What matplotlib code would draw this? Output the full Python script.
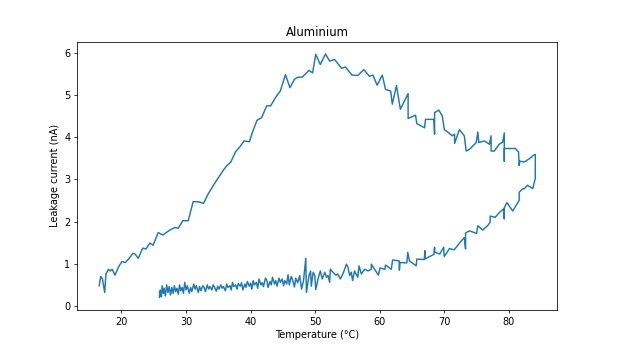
import matplotlib
matplotlib.use("Agg")
import matplotlib.pyplot as plt

# heating branch (lower left -> peak -> right end)
heat_T = [16.55, 16.8, 17.06, 17.4, 17.6, 18.0, 18.25, 18.56, 19.0, 19.5,
          20.05, 20.6, 21.1, 21.8, 22.1, 22.6, 23.3, 23.8, 24.4, 24.9,
          25.7, 26.4, 27.5, 28.3, 28.8, 29.5, 30.35, 31.1, 31.9, 32.7,
          33.45, 34.5, 35.8, 36.3, 36.9, 37.7, 38.35, 39.0, 39.8, 40.4,
          41.0, 41.7, 42.5, 43.1, 44.0, 44.6, 45.4, 46.1, 46.8, 47.35,
          48.0, 48.65, 49.05, 49.6, 50.1, 50.8, 51.6, 52.25, 53.0, 54.1,
          54.7, 55.7, 56.6, 57.55, 58.4, 58.95, 59.6, 60.4, 60.9, 61.7,
          61.95, 62.6, 63.2, 64.4, 64.4, 65.55, 65.75, 66.95, 67.1, 68.4,
          68.5, 68.5, 69.15, 69.7, 70.0, 70.8, 71.2, 71.6, 71.6, 72.35,
          73.1, 73.4, 73.9, 74.95, 75.2, 75.35, 76.2, 77.0, 77.25, 77.25,
          77.75, 78.5, 79.05, 79.3, 79.3, 79.3, 80.5, 81.0, 81.5, 81.6,
          81.7, 82.4, 83.2, 83.8, 84.1]
heat_I = [0.48, 0.70, 0.64, 0.32, 0.76, 0.87, 0.83, 0.87, 0.73, 0.91,
          1.05, 1.03, 1.11, 1.25, 1.23, 1.13, 1.37, 1.35, 1.49, 1.44,
          1.74, 1.68, 1.80, 1.86, 1.84, 2.02, 2.02, 2.47, 2.47, 2.43,
          2.66, 2.92, 3.22, 3.32, 3.40, 3.66, 3.77, 3.91, 3.89, 4.16,
          4.40, 4.46, 4.74, 4.74, 4.97, 5.09, 5.48, 5.17, 5.37, 5.42,
          5.42, 5.52, 5.58, 5.52, 5.96, 5.72, 5.97, 5.80, 5.84, 5.63,
          5.66, 5.47, 5.46, 5.60, 5.44, 5.47, 5.23, 5.47, 5.13, 5.09,
          4.78, 5.22, 4.66, 5.03, 4.44, 4.52, 4.32, 4.22, 4.42, 4.42,
          4.07, 4.58, 4.64, 4.50, 4.18, 4.09, 4.03, 4.07, 3.85, 4.18,
          4.03, 3.67, 3.71, 3.87, 4.12, 3.87, 3.91, 3.83, 4.03, 3.67,
          3.67, 3.83, 3.88, 4.10, 3.43, 3.73, 3.73, 3.73, 3.65, 3.33,
          3.43, 3.41, 3.49, 3.57, 3.59]

# cooling branch (right end -> back to room temperature)
cool_T = [84.1, 83.7, 82.9, 82.4, 82.1, 81.6, 81.6, 80.6, 79.7, 79.3,
          79.3, 79.2, 78.5, 77.9, 77.1, 77.1, 76.7, 75.95, 75.2, 75.0,
          73.9, 73.3, 73.3, 73.1, 72.35, 71.55, 70.8, 70.0, 69.9, 69.3,
          68.5, 68.5, 68.4, 67.7, 67.0, 67.0, 66.9, 65.75, 65.65, 64.6,
          64.35, 64.2, 63.15, 63.05, 63.0, 62.0, 61.8, 60.9, 60.8, 60.05,
          59.8, 59.5, 58.7, 58.7, 58.2, 57.65, 57.15, 56.8, 56.6, 56.1,
          55.8, 55.6, 55.35, 55.1, 54.85, 54.3, 53.9, 53.5, 53.2, 52.75,
          52.35, 52.25, 52.0, 51.75, 51.5, 51.1, 50.8, 50.45, 50.1, 49.95,
          49.7, 49.4, 49.3, 49.05, 48.65, 48.55, 48.2, 47.9, 47.6, 47.3,
          47.0, 46.8, 46.5, 46.3, 46.0, 45.8, 45.6, 45.3, 45.1, 44.9,
          44.6, 44.4, 44.1, 43.9, 43.7, 43.4, 43.2, 43.0, 42.7, 42.5,
          42.3, 42.0, 41.8, 41.6, 41.3, 41.1, 40.9, 40.6, 40.4, 40.2,
          40.0, 39.8, 39.5, 39.3, 39.1, 38.8, 38.6, 38.4, 38.1, 37.9,
          37.7, 37.4, 37.2, 37.0, 36.8, 36.5, 36.3, 36.1, 35.8, 35.6,
          35.4, 35.1, 34.9, 34.7, 34.4, 34.2, 34.0, 33.7, 33.5, 33.3,
          33.0, 32.8, 32.6, 32.3, 32.1, 31.9, 31.6, 31.4, 31.2, 30.9,
          30.7, 30.5, 30.2, 30.0, 29.8, 29.6, 29.4, 29.2, 29.0, 28.8,
          28.6, 28.4, 28.2, 28.0, 27.8, 27.6, 27.4, 27.2, 27.0, 26.8,
          26.6, 26.5, 26.3, 26.2, 26.0, 25.9, 25.9]
cool_I = [3.02, 2.78, 2.86, 2.78, 2.77, 2.69, 2.50, 2.25, 2.45, 2.33,
          2.06, 2.30, 2.21, 2.10, 2.13, 1.98, 1.90, 1.80, 1.90, 1.72,
          1.78, 1.73, 1.35, 1.62, 1.49, 1.33, 1.36, 1.17, 1.39, 1.23,
          1.28, 1.39, 1.22, 1.17, 1.11, 1.31, 1.10, 1.11, 0.95, 1.07,
          1.27, 1.02, 1.03, 0.85, 1.07, 1.09, 0.87, 0.97, 0.87, 0.90,
          0.73, 0.80, 0.99, 0.87, 0.83, 0.87, 0.76, 0.95, 0.68, 0.83,
          0.60, 0.80, 0.72, 0.91, 0.99, 0.76, 0.64, 0.76, 0.73, 0.80,
          0.87, 0.56, 0.72, 0.68, 0.80, 0.64, 0.83, 0.64, 0.39, 0.72,
          0.80, 0.47, 0.83, 0.72, 0.32, 1.13, 0.60, 0.40, 0.72, 0.55,
          0.66, 0.45, 0.62, 0.70, 0.50, 0.74, 0.52, 0.60, 0.48, 0.64,
          0.56, 0.66, 0.47, 0.60, 0.52, 0.68, 0.50, 0.58, 0.44, 0.62,
          0.66, 0.46, 0.55, 0.50, 0.64, 0.42, 0.56, 0.50, 0.60, 0.40,
          0.54, 0.47, 0.58, 0.44, 0.52, 0.38, 0.55, 0.47, 0.53, 0.40,
          0.50, 0.46, 0.56, 0.38, 0.48, 0.44, 0.52, 0.36, 0.46, 0.42,
          0.50, 0.40, 0.47, 0.35, 0.45, 0.50, 0.38, 0.46, 0.40, 0.50,
          0.34, 0.44, 0.48, 0.36, 0.46, 0.32, 0.48, 0.40, 0.52, 0.34,
          0.44, 0.30, 0.48, 0.38, 0.56, 0.30, 0.44, 0.36, 0.50, 0.28,
          0.42, 0.34, 0.48, 0.30, 0.44, 0.26, 0.46, 0.32, 0.50, 0.24,
          0.42, 0.30, 0.48, 0.22, 0.38, 0.20, 0.34]

temp = heat_T + cool_T
current = heat_I + cool_I

fig, ax = plt.subplots(figsize=(619 / 70, 348 / 70), dpi=70)
ax.plot(temp, current)
ax.set_title("Aluminium")
ax.set_xlabel("Temperature (°C)")
ax.set_ylabel("Leakage current (nA)")
fig.savefig("out.png", dpi=70)
